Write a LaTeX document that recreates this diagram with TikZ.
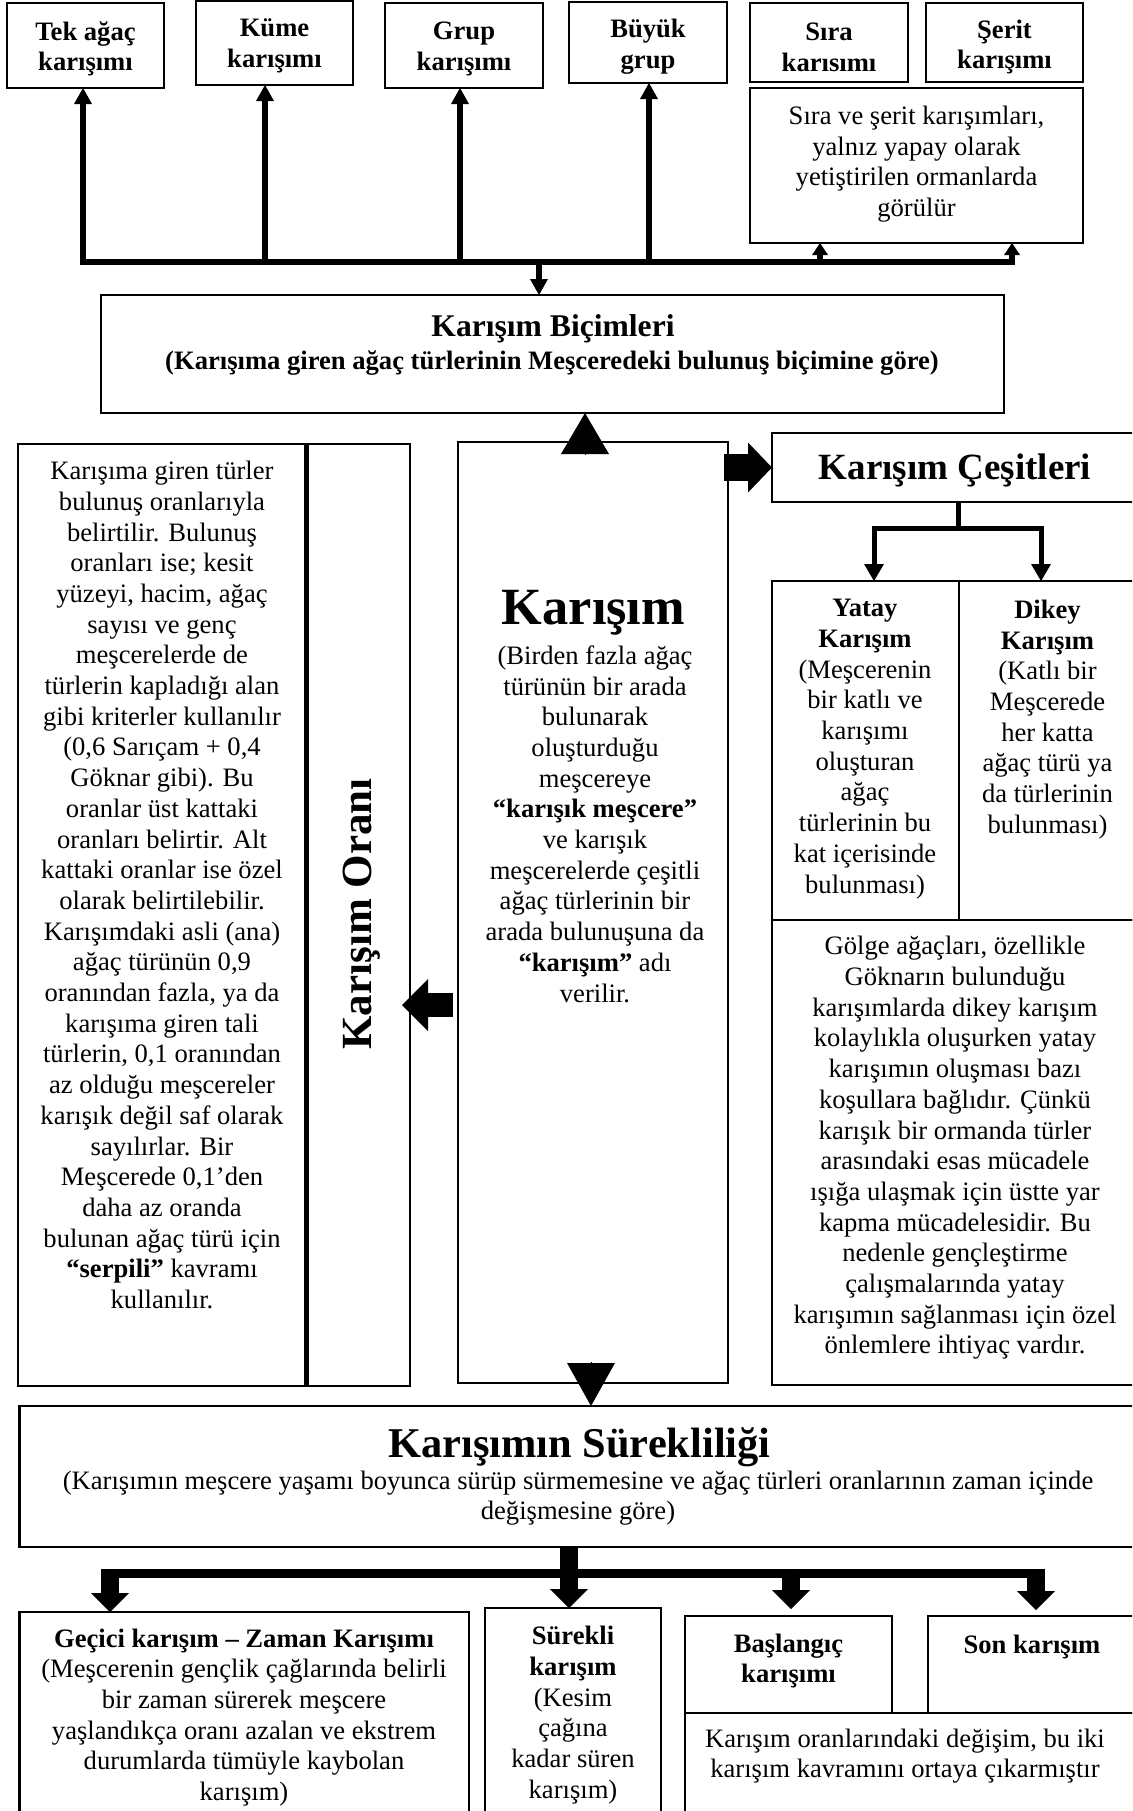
\documentclass[tikz,border=0pt]{standalone}
\usepackage{fontspec}
\setmainfont{Liberation Serif}
\usetikzlibrary{arrows.meta,calc}

\newcommand\fsz[2]{\fontsize{#1}{#2}\selectfont}
% box from (x1,y1) to (x2,y2) in pixel units, y growing downwards
\newcommand\mybox[7][]{\node[frame,#1,minimum width={(#5-#3)*0.5pt},minimum height={(#6-#4)*0.5pt}] (#2) at ({(#3+#5)/2},{(#4+#6)/2}) {#7};}

\begin{document}
\begin{tikzpicture}[x=0.5pt,y=-0.5pt,
  frame/.style={draw,line width=1.1pt,inner sep=0pt,outer sep=0pt},
  txt/.style={align=center,inner sep=0pt,font={\fsz{13.3}{15.35}}},
  txtb/.style={align=center,inner sep=0pt,font={\fsz{13.3}{15.35}\bfseries}},
  head/.style={anchor=base,inner sep=0pt,font={\fsz{#1}{#1}\bfseries}},
  barline/.style={line width=2.75pt,line cap=rect},
  uparr/.style={line width=2.75pt,-{Triangle[length=8pt,width=9pt,line width=0pt]}},
  smallarr/.style={line width=2.75pt,-{Triangle[length=6pt,width=8pt,line width=0pt]}},
  bigtri/.style={line width=0.4pt,-{Triangle[length=#1,width=24pt,line width=0pt]}},
  blockr/.style={line width=13.5pt,-{Triangle[length=12pt,width=25pt,line width=0pt]}},
  blockl/.style={line width=12pt,-{Triangle[length=13pt,width=26pt,line width=0pt]}},
  carr/.style={line width=2.5pt,-{Triangle[length=8.5pt,width=10pt,line width=0pt]}},
  sarr/.style={line width=9pt,-{Triangle[length=9.5pt,width=19pt,line width=0pt]}}
]
\useasboundingbox (0,0) rectangle (1132,1811);
\fill[white] (0,0) rectangle (1132,1811);
\clip (0,0) rectangle (1132,1811);

% ---------- top row: forms of mixture ----------
\mybox{tek}{7}{3}{164}{88}{}
\node[txtb] (tekt) at ($(tek)+(0,3.5)$) {Tek ağaç\\karışımı};
\mybox{kume}{196}{1}{353}{85}{}
\node[txtb] (kumet) at ($(kume)+(0,2.5)$) {Küme\\karışımı};
\mybox{grup}{385}{3}{543}{88}{}
\node[txtb] (grupt) at ($(grup)+(0,3.5)$) {Grup\\karışımı};
\mybox{buyuk}{569}{2}{727}{83}{}
\node[txtb] (buyukt) at ($(buyuk)+(0,4)$) {Büyük\\grup};
\mybox{sira}{750}{3}{908}{82}{}
\node[txtb] (sirat) at ($(sira)+(0,4.5)$) {Sıra\\karısımı};
\mybox{serit}{926}{3}{1083}{82}{}
\node[txtb] (seritt) at ($(serit)+(0,4.5)$) {Şerit\\karışımı};
\mybox{not1}{750}{88}{1083}{243}{}
\node[txt] (not1t) at (916.5,164) {Sıra ve şerit karışımları,\\yalnız yapay olarak\\yetiştirilen ormanlarda\\görülür};

% ---------- Karışım Biçimleri ----------
\mybox{bicim}{101}{295}{1004}{413}{}
\node[head=15.8] (bicimt) at (553,336) {Karışım Biçimleri};
\node[txtb,anchor=base] (bicims) at (552,369) {(Karışıma giren ağaç türlerinin Meşceredeki bulunuş biçimine göre)};

% ---------- Karışım Oranı ----------
\mybox{oranx}{18}{444}{305.5}{1386}{}
\node[txt] (oranxt) at (162,885) {Karışıma giren türler\\bulunuş oranlarıyla\\belirtilir. Bulunuş\\oranları ise; kesit\\yüzeyi, hacim, ağaç\\sayısı ve genç\\meşcerelerde de\\türlerin kapladığı alan\\gibi kriterler kullanılır\\(0,6 Sarıçam + 0,4\\Göknar gibi). Bu\\oranlar üst kattaki\\oranları belirtir. Alt\\kattaki oranlar ise özel\\olarak belirtilebilir.\\Karışımdaki asli (ana)\\ağaç türünün 0,9\\oranından fazla, ya da\\karışıma giren tali\\türlerin, 0,1 oranından\\az olduğu meşcereler\\karışık değil saf olarak\\sayılırlar. Bir\\Meşcerede 0,1’den\\daha az oranda\\bulunan ağaç türü için\\\textbf{“serpili”} kavramı\\kullanılır.};
\mybox{oran}{307.5}{444}{410}{1386}{}
\node[head=21.5,rotate=90] (orant) at (371,914) {Karışım Oranı};

% ---------- Karışım (centre) ----------
\mybox{kar}{458}{442}{728}{1383}{}
\node[head=26.15] (kart) at (593.5,624) {Karışım};
\node[txt] (karx) at (595,824) {(Birden fazla ağaç\\türünün bir arada\\bulunarak\\oluşturduğu\\meşcereye\\\textbf{“karışık meşcere”}\\ve karışık\\meşcerelerde çeşitli\\ağaç türlerinin bir\\arada bulunuşuna da\\\textbf{“karışım”} adı\\verilir.};

% ---------- Karışım Çeşitleri ----------
\mybox{ces}{772}{433}{1137}{502}{}
\node[head=18.5] (cest) at (955,479) {Karışım Çeşitleri};
\mybox{yat}{772}{581}{959}{920}{}
\node[txt] (yatt) at (865,749) {\textbf{Yatay}\\\textbf{Karışım}\\(Meşcerenin\\bir katlı ve\\karışımı\\oluşturan\\ağaç\\türlerinin bu\\kat içerisinde\\bulunması)};
\mybox{dik}{959}{581}{1137}{920}{}
\node[txt] (dikt) at (1047.5,719.5) {\textbf{Dikey}\\\textbf{Karışım}\\(Katlı bir\\Meşcerede\\her katta\\ağaç türü ya\\da türlerinin\\bulunması)};
\mybox{golge}{772}{920}{1137}{1385}{}
\node[txt] (golget) at (955,1148) {Gölge ağaçları, özellikle\\Göknarın bulunduğu\\karışımlarda dikey karışım\\kolaylıkla oluşurken yatay\\karışımın oluşması bazı\\koşullara bağlıdır. Çünkü\\karışık bir ormanda türler\\arasındaki esas mücadele\\ışığa ulaşmak için üstte yar\\kapma mücadelesidir. Bu\\nedenle gençleştirme\\çalışmalarında yatay\\karışımın sağlanması için özel\\önlemlere ihtiyaç vardır.};

% ---------- Karışımın Sürekliliği ----------
\mybox{sur}{19.5}{1406}{1137}{1547}{}
\node[head=21.2] (surt) at (579.5,1457) {Karışımın Sürekliliği};
\node[txt] (surs) at (578,1498) {(Karışımın meşcere yaşamı boyunca sürüp sürmemesine ve ağaç türleri oranlarının zaman içinde\\değişmesine göre)};
\mybox{gec}{19.5}{1612}{469}{1840}{}
\node[txt] (gect) at (244,1717.5) {\textbf{Geçici karışım – Zaman Karışımı}\\(Meşcerenin gençlik çağlarında belirli\\bir zaman sürerek meşcere\\yaşlandıkça oranı azalan ve ekstrem\\durumlarda tümüyle kaybolan\\karışım)};
\mybox{surk}{485}{1608}{661}{1840}{}
\node[txt] (surkt) at (573,1715) {\textbf{Sürekli}\\\textbf{karışım}\\(Kesim\\çağına\\kadar süren\\karışım)};
\mybox{bas}{685}{1616}{892}{1713}{}
\node[txtb] (bast) at (788.5,1661) {Başlangıç\\karışımı};
\mybox{son}{928}{1616}{1137}{1713}{}
\node[txtb] (sont) at (1032,1647) {Son karışım};
\mybox{not2}{685}{1713}{1137}{1840}{}
\node[txt] (not2t) at (905,1756) {Karışım oranlarındaki değişim, bu iki\\karışım kavramını ortaya çıkarmıştır};

% ---------- connectors: top bar ----------
\coordinate (j1) at (83,262);
\coordinate (j2) at (265,262);
\coordinate (j3) at (460,262);
\coordinate (j4) at (649,262);
\coordinate (j5) at (820,262);
\coordinate (j6) at (1012,262);
\coordinate (jd) at (539,262);
\draw[barline] (j1) -- (j6);
\draw[uparr] (j1) -- (j1 |- tek.south);
\draw[uparr] (j2) -- (j2 |- kume.south);
\draw[uparr] (j3) -- (j3 |- grup.south);
\draw[uparr] (j4) -- (j4 |- buyuk.south);
\draw[smallarr] (j5) -- (j5 |- not1.south);
\draw[smallarr] (j6) -- (j6 |- not1.south);
\draw[uparr] (jd) -- (jd |- bicim.north);

% ---------- connectors around Karışım ----------
\coordinate (tu) at ($(kar.north)+(-8,13)$);
\draw[bigtri=20.5pt] (tu) -- (tu |- bicim.south);
\coordinate (td) at ($(kar.south)+(-2,-21)$);
\draw[bigtri=21.5pt] (td) -- (td |- sur.north);
\coordinate (br) at ($(kar.east |- ces.west)+(-4,0)$);
\draw[blockr] (br) -- (ces.west);
\coordinate (bl) at ($(kar.west)+(-5,92.5)$);
\coordinate (bl2) at ($(oran.east)+(-8,90)$);
\draw[blockl] (bl) -- (bl2);

% ---------- connectors: Çeşitleri ----------
\coordinate (c0) at ($(ces.south)+(3.5,26)$);
\coordinate (ca) at ($(yat.north)+(8.5,-53)$);
\coordinate (cb) at ($(dik.north)+(-7,-53)$);
\draw[line width=2.5pt] (c0 |- ces.south) -- (c0);
\draw[carr] (c0) -- (ca) -- (ca |- yat.north);
\draw[carr] (c0) -- (cb) -- (cb |- dik.north);

% ---------- connectors: Sürekliliği ----------
\coordinate (s0) at ($(sur.south)+(-9.25,26)$);
\coordinate (sL) at (110,1573);
\coordinate (sB) at (791,1573);
\coordinate (sR) at (1036,1573);
\draw[line width=4.5pt] (sL) -- (sR);
\draw[sarr] (s0 |- sur.south) -- (s0 |- surk.north);
\draw[sarr] ($(sL)+(0,-4.5)$) -- (sL |- gec.north);
\draw[sarr,shorten >=3.5pt] ($(sB)+(0,-4.5)$) -- (sB |- bas.north);
\draw[sarr,shorten >=3pt] ($(sR)+(0,-4.5)$) -- (sR |- son.north);
\end{tikzpicture}
\end{document}
